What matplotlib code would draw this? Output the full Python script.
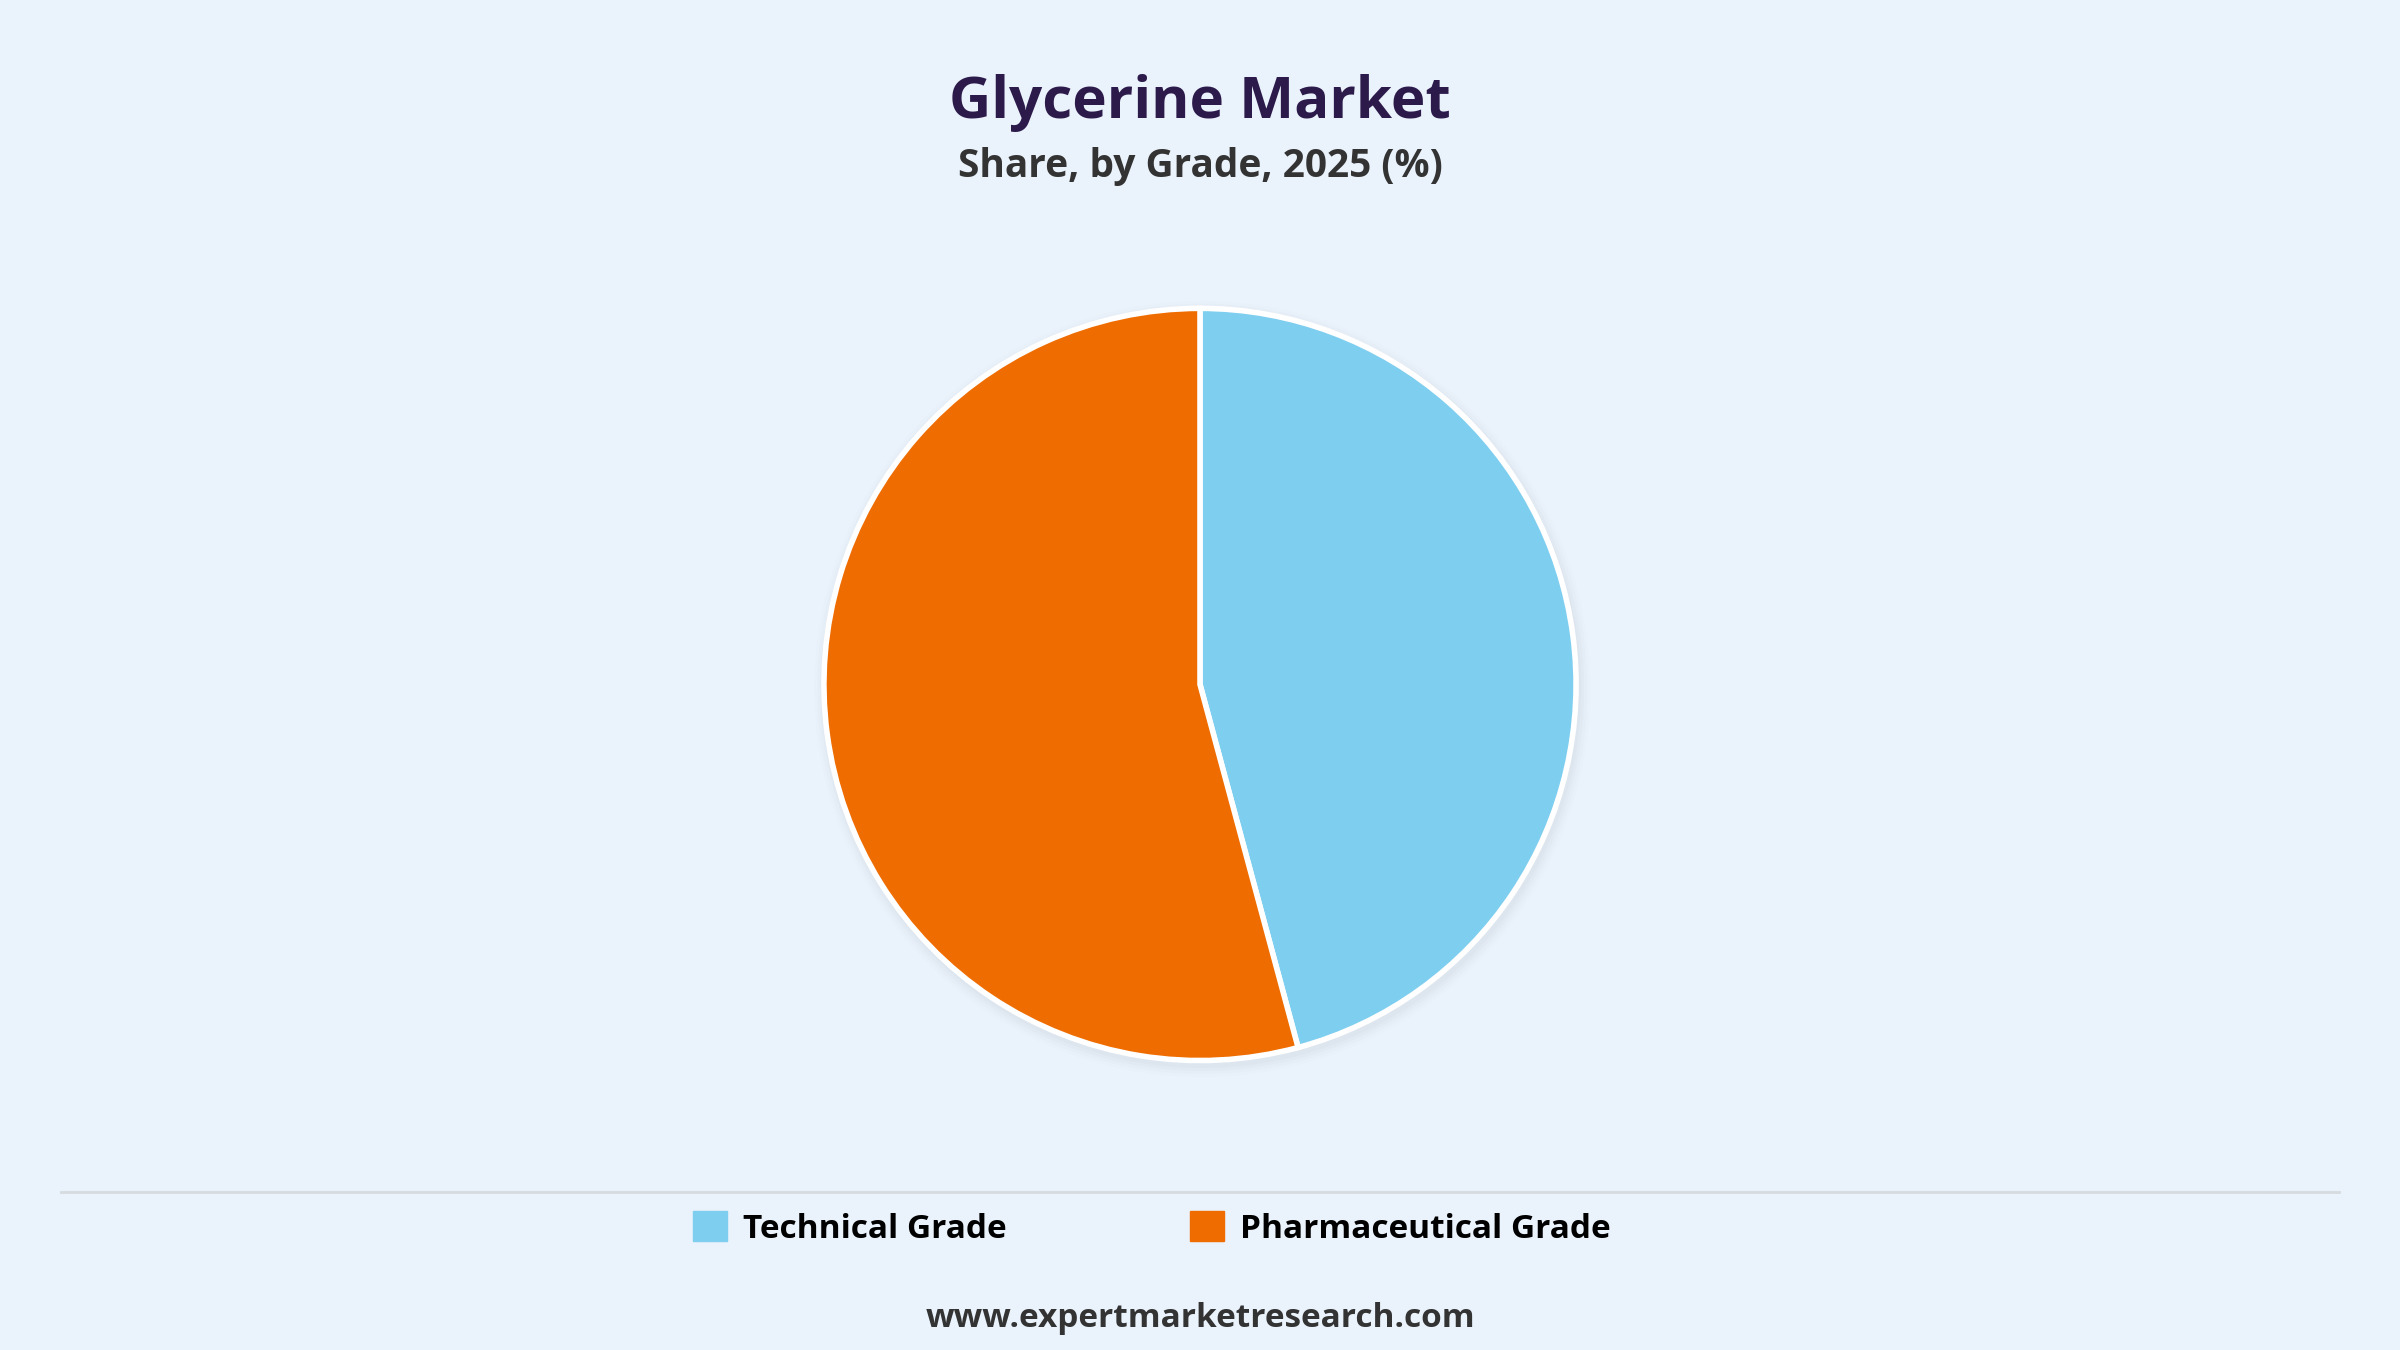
import matplotlib.pyplot as plt
from matplotlib.patches import Patch, Circle
from matplotlib.lines import Line2D

plt.rcParams['font.family'] = ['Open Sans', 'DejaVu Sans']

grades = ['Technical Grade', 'Pharmaceutical Grade']
shares = [45.8, 54.2]
colors = ['#7ecef0', '#ef6c00']
bg = '#eaf2fb'

fig = plt.figure(figsize=(24, 13.5), dpi=100, facecolor=bg)

# pie area: centre ~ (0.5, 0.493)
h = 0.585
w = h * 13.5 / 24
ax = fig.add_axes([0.5 - w / 2, 0.493 - h / 2, w, h])
ax.set_facecolor(bg)

# soft shadow behind the pie
for i, a in enumerate([0.05, 0.04, 0.03, 0.02]):
    ax.add_patch(Circle((0.006, -0.012), 1.0 + 0.008 * (i + 1), color='#9aa4b0', alpha=a, lw=0, zorder=0))

ax.pie(shares, colors=colors, startangle=90, counterclock=False,
       wedgeprops=dict(edgecolor='white', linewidth=4), radius=1.0)
ax.set_xlim(-1.05, 1.05)
ax.set_ylim(-1.05, 1.05)
ax.set_aspect('equal')
ax.axis('off')

fig.text(0.5, 0.924, 'Glycerine Market', ha='center', va='center',
         fontsize=42, fontweight='bold', color='#2b1a4a')
fig.text(0.5, 0.877, 'Share, by Grade, 2025 (%)', ha='center', va='center',
         fontsize=28, fontweight='bold', color='#333333')

fig.add_artist(Line2D([40 / 1568, 1528 / 1568], [0.117, 0.117], color='#d6dbe0', lw=2))

handles = [Patch(facecolor=c, edgecolor=c) for c in colors]
fig.legend(handles, grades, loc='center', bbox_to_anchor=(0.48, 0.09), ncol=2,
           frameon=False, prop={'weight': 'bold', 'size': 24},
           handlelength=1.0, handleheight=1.0, columnspacing=5.5, handletextpad=0.5)

fig.text(0.5, 0.023, 'www.expertmarketresearch.com', ha='center', va='center',
         fontsize=24, fontweight='bold', color='#333333')

fig.savefig('out.png', dpi=100, facecolor=bg)
